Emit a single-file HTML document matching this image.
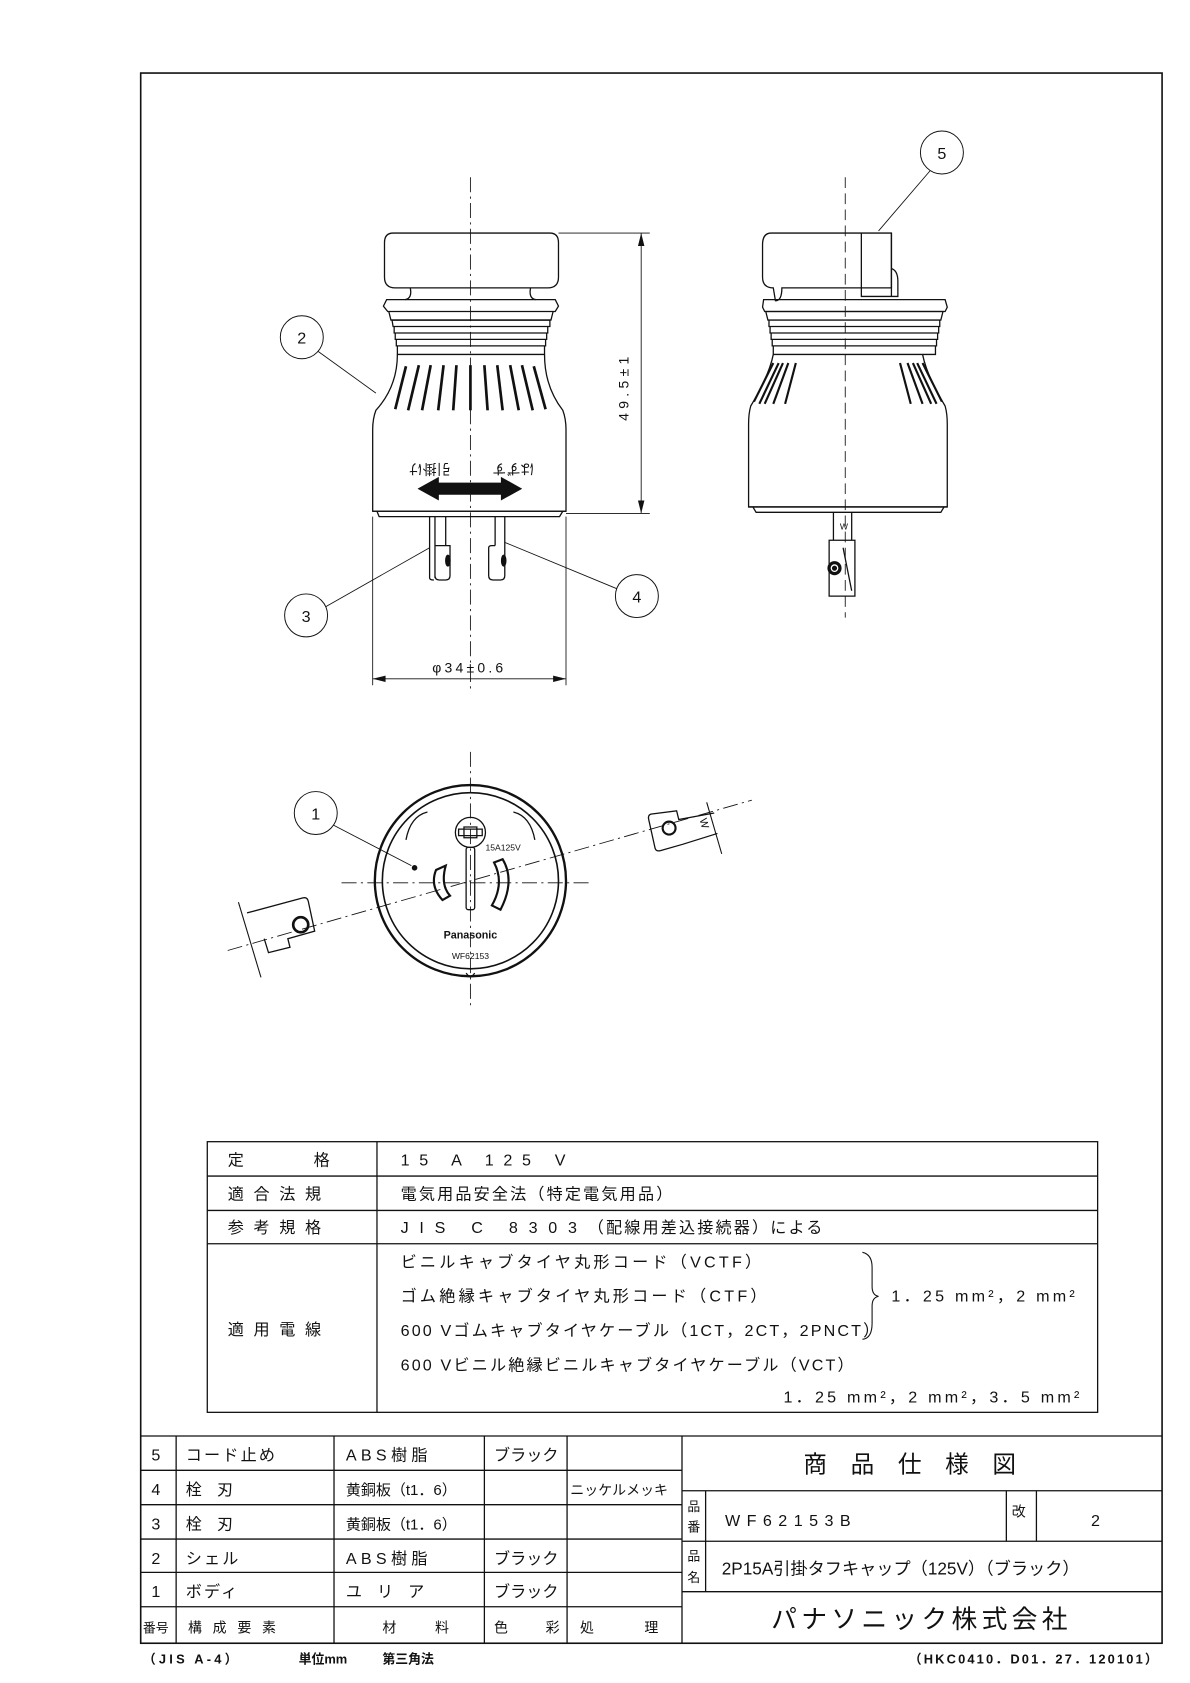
<!DOCTYPE html>
<html><head><meta charset="utf-8"><style>
html,body{margin:0;padding:0;background:#fff}
svg{display:block}
text{font-family:"Liberation Sans","Noto Sans CJK JP",sans-serif;fill:#111}
</style></head><body>
<svg width="1190" height="1683" viewBox="0 0 1108 1567" xmlns="http://www.w3.org/2000/svg">
<g fill="none" stroke="#111" stroke-width="1.2">
<rect x="131" y="68" width="951" height="1462" stroke-width="1.5"/>

<line x1="438" y1="165" x2="438" y2="645" stroke-dasharray="14,4,2,4" stroke-width="0.8"/>
<path d="M366,217 H512 Q520,217 520,226 V258 Q520,268 510,268 H368 Q358,268 358,258 V226 Q358,217 366,217 Z"/>
<path d="M382,268 Q384,278 377,279 M494,268 Q492,278 499,279"/>
<path d="M360,279 H517 L520,285 L517,290 H361 L357,285 Z"/>
<path d="M362,290 L364,298 H513 L515,290"/>
<path d="M365,298 H512 V304 H366 Z M367,304 H510 V310 H367 Z M368,310 H509 V316 H368 Z M369,316 H508 V322 H369 Z M370,322 H507 V330 H370 Z"/>
<path d="M370,330 Q370,360 350,382 Q347,390 347,400 V476 H527 V400 Q527,390 524,382 Q507,360 507,330"/>
<path d="M347,476 H527 M351,476 L353,481 H521 L524,476" />
<g stroke-width="2.5">
<path d="M413,340 L408,382"/><path d="M425,340 L422,382"/><path d="M401,340 L393,382"/><path d="M390,340 L380,382"/><path d="M378,341 L368,381"/>
<path d="M438,340 V382"/>
<path d="M451,340 L454,382"/><path d="M463,340 L468,382"/><path d="M475,340 L483,382"/><path d="M486,340 L496,382"/><path d="M497,341 L508,381"/>
</g>
<path d="M390,455 L408,445 V450 H467 V445 L485,455 L467,465 V460 H408 V465 Z" fill="#111"/>
<path d="M405,481 V538 M415,481 V508 M405,508 H419 V536 Q419,540 415,540 H409 Q405,540 405,536"/>
<path d="M400,481 V538 Q400,540 404,540"/>
<path d="M461,481 V508 M470,481 V536 Q470,540 466,540 H459 Q455,540 455,536 V510 Q455,508 458,508 H461"/>
<ellipse cx="417" cy="522" rx="2" ry="5" fill="#111"/>
<ellipse cx="469" cy="522" rx="2" ry="5" fill="#111"/>
<line x1="520" y1="217" x2="605" y2="217" stroke-width="0.8"/>
<line x1="527" y1="478" x2="605" y2="478" stroke-width="0.8"/>
<line x1="597" y1="217" x2="597" y2="478" stroke-width="0.8"/>
<path d="M597,217 l-3,12 h6 Z M597,478 l-3,-12 h6 Z" fill="#111" stroke="none"/>
<line x1="347" y1="481" x2="347" y2="638" stroke-width="0.8"/>
<line x1="527" y1="481" x2="527" y2="638" stroke-width="0.8"/>
<line x1="347" y1="632" x2="527" y2="632" stroke-width="0.8"/>
<path d="M347,632 l12,-3 v6 Z M527,632 l-12,-3 v6 Z" fill="#111" stroke="none"/>
<circle cx="281" cy="314" r="20" stroke-width="0.9"/><line x1="296" y1="327" x2="350" y2="366" stroke-width="0.8"/>
<circle cx="285" cy="573" r="20" stroke-width="0.9"/><line x1="303" y1="565" x2="400" y2="510" stroke-width="0.8"/>
<circle cx="593" cy="555" r="20" stroke-width="0.9"/><line x1="574" y1="548" x2="470" y2="505" stroke-width="0.8"/>
<circle cx="877" cy="142" r="20" stroke-width="0.9"/><line x1="866" y1="159" x2="818" y2="215" stroke-width="0.8"/>
<circle cx="294" cy="757" r="20" stroke-width="0.9"/><line x1="310" y1="768" x2="383" y2="806" stroke-width="0.8"/>

<line x1="787" y1="165" x2="787" y2="575" stroke-dasharray="10,5" stroke-width="0.8"/>
<path d="M718,217 H830 V268 H728 Q728,280 722,280 H722 L720,268 Q710,268 710,258 V228 Q710,217 718,217 Z"/>
<path d="M802,217 V276 H830 V217 M830,250 Q836,252 836,262 V276 H830"/>
<path d="M711,279 H880 L882,286 L880,290 H712 L710,286 Z"/>
<path d="M713,290 H878 L876,298 H715 Z M716,298 H875 V304 H716 Z M717,304 H874 V310 H717 Z M718,310 H873 V316 H718 Z M719,316 H872 V322 H719 Z M720,322 H871 V330 H720 Z"/>
<path d="M720,330 Q716,350 699,378 Q697,385 697,395 V472 H882 V395 Q882,385 880,378 Q863,350 859,330"/>
<path d="M697,472 H882 M701,472 L704,477 H876 L879,472"/>
<g stroke-width="2">
<path d="M720,338 L702,374"/><path d="M725,338 L707,376"/><path d="M729,338 L712,376"/><path d="M734,338 L720,376"/><path d="M741,338 L731,376"/>
<path d="M859,338 L877,374"/><path d="M854,338 L872,376"/><path d="M850,338 L867,376"/><path d="M845,338 L859,376"/><path d="M838,338 L848,376"/>
</g>
<path d="M776,477 V503 M793,477 V503 M772,503 H796 V555 H772 Z M785,510 L793,550"/>
<circle cx="777" cy="529" r="6" fill="#111"/><circle cx="777" cy="529" r="3" stroke="#fff"/>

<line x1="438" y1="700" x2="438" y2="940" stroke-dasharray="14,4,2,4" stroke-width="0.8"/>
<line x1="318" y1="822" x2="552" y2="822" stroke-dasharray="14,4,2,4" stroke-width="0.8"/>
<line x1="212" y1="885" x2="700" y2="745" stroke-dasharray="14,4,2,4" stroke-width="0.8"/>
<circle cx="438" cy="820" r="89" stroke-width="2.2"/>
<circle cx="438" cy="820" r="82" stroke-width="1.5"/>
<path d="M378,782 Q382,760 398,756 M498,782 Q494,760 478,756"/>
<circle cx="438" cy="775" r="14"/>
<path d="M432,770 h12 v10 h-12 z M427,772 h22 v6 h-22 z"/>
<rect x="434" y="789" width="8" height="58" rx="2"/>
<path d="M415,806 L406,810 Q400,825 412,838 L419,834 Q410,824 415,806 Z" stroke-width="2"/>
<path d="M460,803 L468,800 Q480,820 466,847 L458,843 Q470,822 460,803 Z" stroke-width="2"/>
<circle cx="386" cy="808" r="2" fill="#111"/>
<path d="M434,906 q4,6 8,0"/>
<line x1="222" y1="840" x2="243" y2="910" stroke-width="1"/>
<path d="M230,850 L282,836 Q286,835 287,839 L293,867 L268,874 L270,882 L250,887 L246,874"/>
<circle cx="280" cy="861" r="7" stroke-width="2.5"/>
<line x1="658" y1="747" x2="672" y2="795" stroke-width="1"/>
<path d="M665,757 L632,763 L630,755 L606,758 Q603,759 604,763 L610,790 Q611,793 615,792 L636,786 L668,776"/>
<circle cx="623" cy="771" r="6" stroke-width="2"/>

<rect x="193" y="1063" width="829" height="252"/>
<line x1="351" y1="1063" x2="351" y2="1315"/>
<line x1="193" y1="1095" x2="1022" y2="1095"/>
<line x1="193" y1="1127" x2="1022" y2="1127"/>
<line x1="193" y1="1158" x2="1022" y2="1158"/>
<path d="M803,1166 Q812,1168 812,1180 V1198 Q812,1206 818,1207 Q812,1208 812,1216 V1232 Q812,1246 803,1247" stroke-width="1"/>

<line x1="131" y1="1337" x2="1082" y2="1337"/>
<g>
<line x1="131" y1="1369" x2="635" y2="1369"/><line x1="131" y1="1401" x2="635" y2="1401"/>
<line x1="131" y1="1433" x2="635" y2="1433"/><line x1="131" y1="1464" x2="635" y2="1464"/>
<line x1="131" y1="1496" x2="635" y2="1496"/>
<line x1="164" y1="1337" x2="164" y2="1530"/><line x1="311" y1="1337" x2="311" y2="1530"/>
<line x1="451" y1="1337" x2="451" y2="1530"/><line x1="528" y1="1337" x2="528" y2="1530"/>
<line x1="635" y1="1337" x2="635" y2="1530"/>
<line x1="635" y1="1388" x2="1082" y2="1388"/><line x1="635" y1="1435" x2="1082" y2="1435"/>
<line x1="635" y1="1482" x2="1082" y2="1482"/>
<line x1="657" y1="1388" x2="657" y2="1482"/>
<line x1="937" y1="1388" x2="937" y2="1435"/><line x1="965" y1="1388" x2="965" y2="1435"/>
</g>
</g>

<g font-size="13">
<text x="585" y="360" transform="rotate(-90 585 360)" text-anchor="middle" letter-spacing="4">49.5±1</text>
<text x="437" y="626" text-anchor="middle" letter-spacing="3">φ34±0.6</text>
<text x="400" y="432" transform="rotate(180 400 432)" text-anchor="middle" font-size="13">引掛け</text>
<text x="478" y="432" transform="rotate(180 478 432)" text-anchor="middle" font-size="13">はずす</text>
</g>
<g font-size="15" text-anchor="middle">
<text x="281" y="320">2</text><text x="285" y="579">3</text><text x="593" y="561">4</text>
<text x="877" y="148">5</text><text x="294" y="763">1</text>
</g>
<g font-size="8">
<text x="452" y="792">15A125V</text>
<text x="438" y="874" text-anchor="middle" font-size="10" font-weight="bold">Panasonic</text>
<text x="438" y="893" text-anchor="middle">WF62153</text>
<text x="652" y="768" transform="rotate(75 655 765)" font-size="10">W</text>
<text x="782" y="493" font-size="8">W</text>
</g>

<g font-size="15" letter-spacing="2">
<text x="212" y="1085">定</text><text x="292" y="1085">格</text>
<text x="212" y="1117" letter-spacing="9">適合法規</text>
<text x="212" y="1148" letter-spacing="9">参考規格</text>
<text x="212" y="1243" letter-spacing="9">適用電線</text>
<text x="373" y="1085" letter-spacing="9">15 A 125 V</text>
<text x="373" y="1117">電気用品安全法（特定電気用品）</text>
<text x="373" y="1148"><tspan letter-spacing="10">JIS C 8303</tspan>（配線用差込接続器）による</text>
<text x="373" y="1180" letter-spacing="3">ビニルキャブタイヤ丸形コード（VCTF）</text>
<text x="373" y="1212" letter-spacing="3">ゴム絶縁キャブタイヤ丸形コード（CTF）</text>
<text x="373" y="1244" letter-spacing="2">600 Vゴムキャブタイヤケーブル（1CT，2CT，2PNCT）</text>
<text x="373" y="1276" letter-spacing="2">600 Vビニル絶縁ビニルキャブタイヤケーブル（VCT）</text>
<text x="830" y="1212" letter-spacing="3">1．25 mm²，2 mm²</text>
<text x="1008" y="1306" letter-spacing="3" text-anchor="end">1．25 mm²，2 mm²，3．5 mm²</text>
</g>

<g font-size="15">
<text x="141" y="1360">5</text><text x="141" y="1392">4</text><text x="141" y="1424">3</text><text x="141" y="1456">2</text><text x="141" y="1487">1</text>
<text x="173" y="1360" letter-spacing="2">コード止め</text>
<text x="173" y="1392" letter-spacing="14">栓刃</text>
<text x="173" y="1424" letter-spacing="14">栓刃</text>
<text x="173" y="1456" letter-spacing="2">シェル</text>
<text x="173" y="1487" letter-spacing="2">ボディ</text>
<text x="322" y="1360" letter-spacing="4">ABS樹脂</text>
<text x="322" y="1392" font-size="14">黄銅板（t1．6）</text>
<text x="322" y="1424" font-size="14">黄銅板（t1．6）</text>
<text x="322" y="1456" letter-spacing="4">ABS樹脂</text>
<text x="322" y="1487" letter-spacing="14">ユリア</text>
<text x="460" y="1360">ブラック</text><text x="460" y="1456">ブラック</text><text x="460" y="1487">ブラック</text>
<text x="531" y="1392" font-size="13">ニッケルメッキ</text>
<text x="133" y="1520" font-size="12">番号</text>
<text x="175" y="1520" font-size="13" letter-spacing="10">構成要素</text>
<text x="356" y="1520" font-size="13">材</text><text x="405" y="1520" font-size="13">料</text>
<text x="460" y="1520" font-size="13">色</text><text x="508" y="1520" font-size="13">彩</text>
<text x="540" y="1520" font-size="13">処</text><text x="600" y="1520" font-size="13">理</text>
<text x="858" y="1371" font-size="22" text-anchor="middle" letter-spacing="22">商品仕様図</text>
<text x="640" y="1407" font-size="12">品</text><text x="640" y="1426" font-size="12">番</text>
<text x="640" y="1453" font-size="12">品</text><text x="640" y="1473" font-size="12">名</text>
<text x="675" y="1421" letter-spacing="6">WF62153B</text>
<text x="942" y="1412" font-size="13">改</text>
<text x="1020" y="1421" text-anchor="middle">2</text>
<text x="672" y="1466" font-size="16">2P15A引掛タフキャップ（125V）（ブラック）</text>
<text x="858" y="1516" font-size="24" text-anchor="middle" letter-spacing="4">パナソニック株式会社</text>
</g>
<g font-size="12" font-weight="bold">
<text x="133" y="1549" letter-spacing="3">（JIS A-4）</text>
<text x="278" y="1549">単位mm</text>
<text x="356" y="1549">第三角法</text>
<text x="1080" y="1549" text-anchor="end" letter-spacing="2">（HKC0410．D01．27．120101）</text>
</g>
</svg>
</body></html>
